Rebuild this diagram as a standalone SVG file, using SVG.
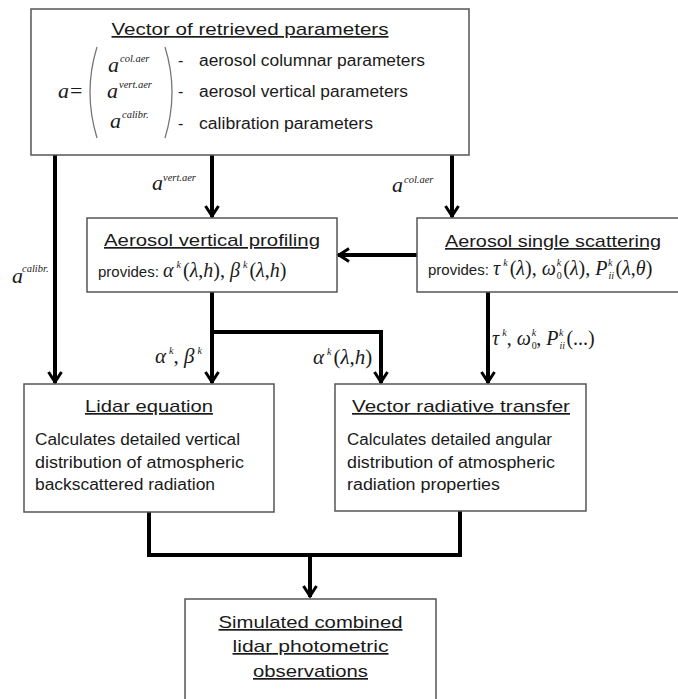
<svg xmlns="http://www.w3.org/2000/svg" width="678" height="699" viewBox="0 0 678 699">
<style>
.box{fill:#fff;stroke:#555;stroke-width:1.5}
.conn{fill:none;stroke:#000;stroke-width:4}
.t{font-family:"Liberation Sans",Arial,sans-serif;fill:#1a1a1a}
.ti{font-size:17px;text-decoration:underline}
.b{font-size:16px}
.m{font-family:"Liberation Serif","Times New Roman",serif;font-style:italic;fill:#1a1a1a}
.up{font-style:normal}
.sans{font-family:"Liberation Sans",Arial,sans-serif;font-style:normal;font-size:15px}
.paren{fill:none;stroke:#777;stroke-width:1.3}
</style>
<defs>
<marker id="ah" markerUnits="userSpaceOnUse" viewBox="-14 -8 16 16" refX="0" refY="0" markerWidth="16" markerHeight="16" orient="auto">
<path d="M-11,-6.5 L-1,0 L-11,6.5" fill="none" stroke="#000" stroke-width="3"/>
</marker>
</defs>
<rect width="678" height="699" fill="#fff"/>

<g id="connectors">
<path class="conn" d="M55,155 V383" marker-end="url(#ah)"/>
<path class="conn" d="M212,155 V217" marker-end="url(#ah)"/>
<path class="conn" d="M452,155 V217" marker-end="url(#ah)"/>
<path class="conn" d="M417,255 H338" marker-end="url(#ah)"/>
<path class="conn" d="M212,292 V383" marker-end="url(#ah)"/>
<path class="conn" d="M212,332 H381 V383" marker-end="url(#ah)"/>
<path class="conn" d="M488,292 V383" marker-end="url(#ah)"/>
<path class="conn" d="M149,512 V555 H460 V511"/>
<path class="conn" d="M310,555 V597" marker-end="url(#ah)"/>
<text class="m" x="12" y="283" font-size="22">a</text>
<text class="m" x="22" y="272" font-size="10.5">calibr.</text>
<text class="m" x="152" y="190" font-size="22">a</text>
<text class="m" x="163" y="181" font-size="10.5">vert.aer</text>
<text class="m" x="392" y="192" font-size="22">a</text>
<text class="m" x="404" y="183" font-size="10.5">col.aer</text>
<text class="m" x="155" y="363" font-size="21">α<tspan font-size="10" dx="3" dy="-9">k</tspan><tspan class="up" dy="9">, </tspan>β<tspan font-size="10" dx="3" dy="-9">k</tspan></text>
<text class="m" x="313" y="364" font-size="21">α<tspan font-size="10" dx="3" dy="-9">k</tspan><tspan class="up" dx="2" dy="9">(</tspan>λ<tspan class="up">,</tspan>h<tspan class="up">)</tspan></text>
<text class="m" x="492" y="345" font-size="20">τ<tspan font-size="10" dx="3" dy="-9">k</tspan><tspan class="up" dy="9">, </tspan>ω<tspan class="up" font-size="10" dx="1" dy="4">0</tspan><tspan font-size="10" dx="-5" dy="-13">k</tspan><tspan class="up" dy="9">, </tspan>P<tspan font-size="10" dx="1" dy="4">ii</tspan><tspan font-size="10" dx="-6" dy="-13">k</tspan><tspan class="up" dx="3" dy="9">(...)</tspan></text>
</g>

<g id="node-vector">
<rect class="box" x="31" y="9" width="438" height="146"/>
<text class="t ti" x="250" y="35" text-anchor="middle" textLength="277" lengthAdjust="spacingAndGlyphs">Vector of retrieved parameters</text>
<text class="m" x="58" y="98" font-size="22">a<tspan class="up" dx="1">=</tspan></text>
<path class="paren" d="M97,47 Q83,92 97,138"/>
<path class="paren" d="M165,47 Q179,92 165,138"/>
<text class="m" x="108" y="72" font-size="22">a</text>
<text class="m" x="120" y="62" font-size="10.5">col.aer</text>
<text class="m" x="107" y="98" font-size="22">a</text>
<text class="m" x="119" y="88" font-size="10.5">vert.aer</text>
<text class="m" x="110" y="128" font-size="22">a</text>
<text class="m" x="122" y="118" font-size="10.5">calibr.</text>
<text class="t b" x="178" y="66">-</text>
<text class="t b" x="178" y="97">-</text>
<text class="t b" x="178" y="129">-</text>
<text class="t b" x="199" y="66" textLength="226" lengthAdjust="spacingAndGlyphs">aerosol columnar parameters</text>
<text class="t b" x="199" y="97" textLength="209" lengthAdjust="spacingAndGlyphs">aerosol vertical parameters</text>
<text class="t b" x="199" y="129" textLength="174" lengthAdjust="spacingAndGlyphs">calibration parameters</text>
</g>

<g id="node-vertical">
<rect class="box" x="87" y="218" width="250" height="74"/>
<text class="t ti" x="212" y="246" text-anchor="middle" textLength="216" lengthAdjust="spacingAndGlyphs">Aerosol vertical profiling</text>
<text class="m" x="98" y="277" font-size="20"><tspan class="sans">provides: </tspan>α<tspan font-size="10" dx="3" dy="-9">k</tspan><tspan class="up" dx="2" dy="9">(</tspan>λ<tspan class="up">,</tspan>h<tspan class="up">), </tspan>β<tspan font-size="10" dx="3" dy="-9">k</tspan><tspan class="up" dx="2" dy="9">(</tspan>λ<tspan class="up">,</tspan>h<tspan class="up">)</tspan></text>
</g>

<g id="node-single">
<rect class="box" x="417" y="218" width="275" height="74"/>
<text class="t ti" x="553" y="247" text-anchor="middle" textLength="216" lengthAdjust="spacingAndGlyphs">Aerosol single scattering</text>
<text class="m" x="428" y="275" font-size="20"><tspan class="sans">provides:  </tspan>τ<tspan font-size="10" dx="3" dy="-9">k</tspan><tspan class="up" dx="2" dy="9">(</tspan>λ<tspan class="up">), </tspan>ω<tspan class="up" font-size="10" dx="1" dy="4">0</tspan><tspan font-size="10" dx="-5" dy="-13">k</tspan><tspan class="up" dx="2" dy="9">(</tspan>λ<tspan class="up">), </tspan>P<tspan font-size="10" dx="1" dy="4">ii</tspan><tspan font-size="10" dx="-6" dy="-13">k</tspan><tspan class="up" dx="3" dy="9">(</tspan>λ<tspan class="up">,</tspan>θ<tspan class="up">)</tspan></text>
</g>

<g id="node-lidar">
<rect class="box" x="24" y="384" width="250" height="128"/>
<text class="t ti" x="149" y="412" text-anchor="middle" textLength="128" lengthAdjust="spacingAndGlyphs">Lidar equation</text>
<text class="t b" x="35" y="445" textLength="205" lengthAdjust="spacingAndGlyphs">Calculates detailed vertical</text>
<text class="t b" x="35" y="468" textLength="209" lengthAdjust="spacingAndGlyphs">distribution of atmospheric</text>
<text class="t b" x="35" y="490" textLength="180" lengthAdjust="spacingAndGlyphs">backscattered radiation</text>
</g>

<g id="node-vrt">
<rect class="box" x="335" y="384" width="251" height="127"/>
<text class="t ti" x="461" y="412" text-anchor="middle" textLength="218" lengthAdjust="spacingAndGlyphs">Vector radiative transfer</text>
<text class="t b" x="347" y="445" textLength="205" lengthAdjust="spacingAndGlyphs">Calculates detailed angular</text>
<text class="t b" x="347" y="468" textLength="208" lengthAdjust="spacingAndGlyphs">distribution of atmospheric</text>
<text class="t b" x="347" y="490" textLength="153" lengthAdjust="spacingAndGlyphs">radiation properties</text>
</g>

<g id="node-simulated">
<rect class="box" x="185" y="599" width="251" height="110"/>
<text class="t ti" x="310.5" y="628" text-anchor="middle" textLength="184" lengthAdjust="spacingAndGlyphs">Simulated combined</text>
<text class="t ti" x="310.5" y="652" text-anchor="middle" textLength="156" lengthAdjust="spacingAndGlyphs">lidar photometric</text>
<text class="t ti" x="310.5" y="677" text-anchor="middle" textLength="115" lengthAdjust="spacingAndGlyphs">observations</text>
</g>
</svg>
